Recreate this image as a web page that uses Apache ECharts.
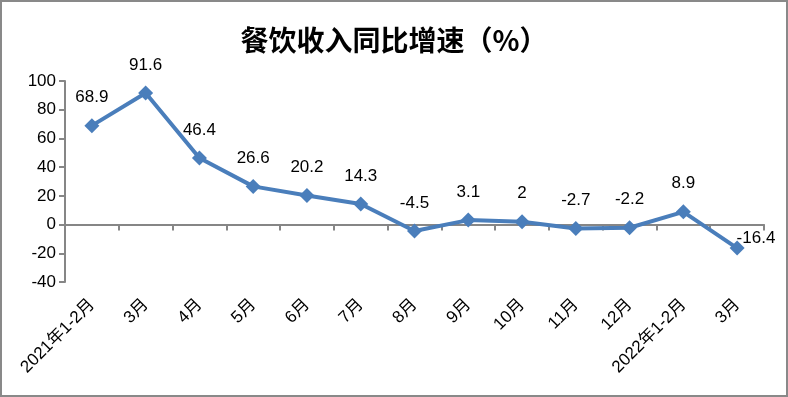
<!DOCTYPE html>
<html>
<head>
<meta charset="utf-8">
<script src="https://cdn.jsdelivr.net/npm/echarts@6/dist/echarts.min.js"></script>
<style>
  html, body { margin: 0; padding: 0; background: #fff; }
  #chart { width: 788px; height: 397px; box-sizing: border-box; border: 2px solid #898989; }
</style>
</head>
<body>
<div id="chart"></div>
<script>
var categories = ['2021年1-2月', '3月', '4月', '5月', '6月', '7月', '8月', '9月', '10月', '11月', '12月', '2022年1-2月', '3月'];
var growth = [68.9, 91.6, 46.4, 26.6, 20.2, 14.3, -4.5, 3.1, 2, -2.7, -2.2, 8.9, -16.4];

var chart = echarts.init(document.getElementById('chart'));
var font = '"Liberation Sans", "Noto Sans CJK SC", sans-serif';

chart.setOption({
    animation: false,
    title: {
        text: '餐饮收入同比增速（%）',
        left: 'center',
        top: 19,
        textStyle: { fontFamily: '"Noto Sans CJK SC", sans-serif', fontSize: 28, fontWeight: 'bold', color: '#000' }
    },
    grid: { left: 63, right: 22, top: 79, bottom: 113, outerBoundsMode: 'none', containLabel: false },
    xAxis: {
        type: 'category',
        data: categories,
        axisLine: { onZero: true, lineStyle: { color: '#868686', width: 2 } },
        axisTick: { show: true, length: 6, lineStyle: { color: '#868686', width: 2 } },
        axisLabel: {
            rotate: 45, interval: 0, color: '#000', fontSize: 17, fontFamily: font,
            margin: 20
        }
    },
    yAxis: {
        type: 'value',
        min: -40, max: 100, interval: 20,
        axisLine: { show: true, lineStyle: { color: '#868686', width: 2 } },
        axisTick: { show: true, length: 6, lineStyle: { color: '#868686', width: 2 } },
        splitLine: { show: false },
        axisLabel: { color: '#000', fontSize: 17, fontFamily: font, margin: 9 }
    },
    series: [{
        type: 'line',
        data: growth.map(function (v, i) {
            var item = { value: v };
            if (i === growth.length - 1) {
                item.label = { position: 'right', offset: [-20, -10] };
            }
            return item;
        }),
        symbol: 'diamond',
        symbolSize: 15,
        lineStyle: { color: '#4a7ebb', width: 4 },
        itemStyle: { color: '#4a7ebb' },
        label: {
            show: true, position: 'top', distance: 12,
            color: '#000', fontSize: 17, fontFamily: font
        }
    }]
});
</script>
</body>
</html>
